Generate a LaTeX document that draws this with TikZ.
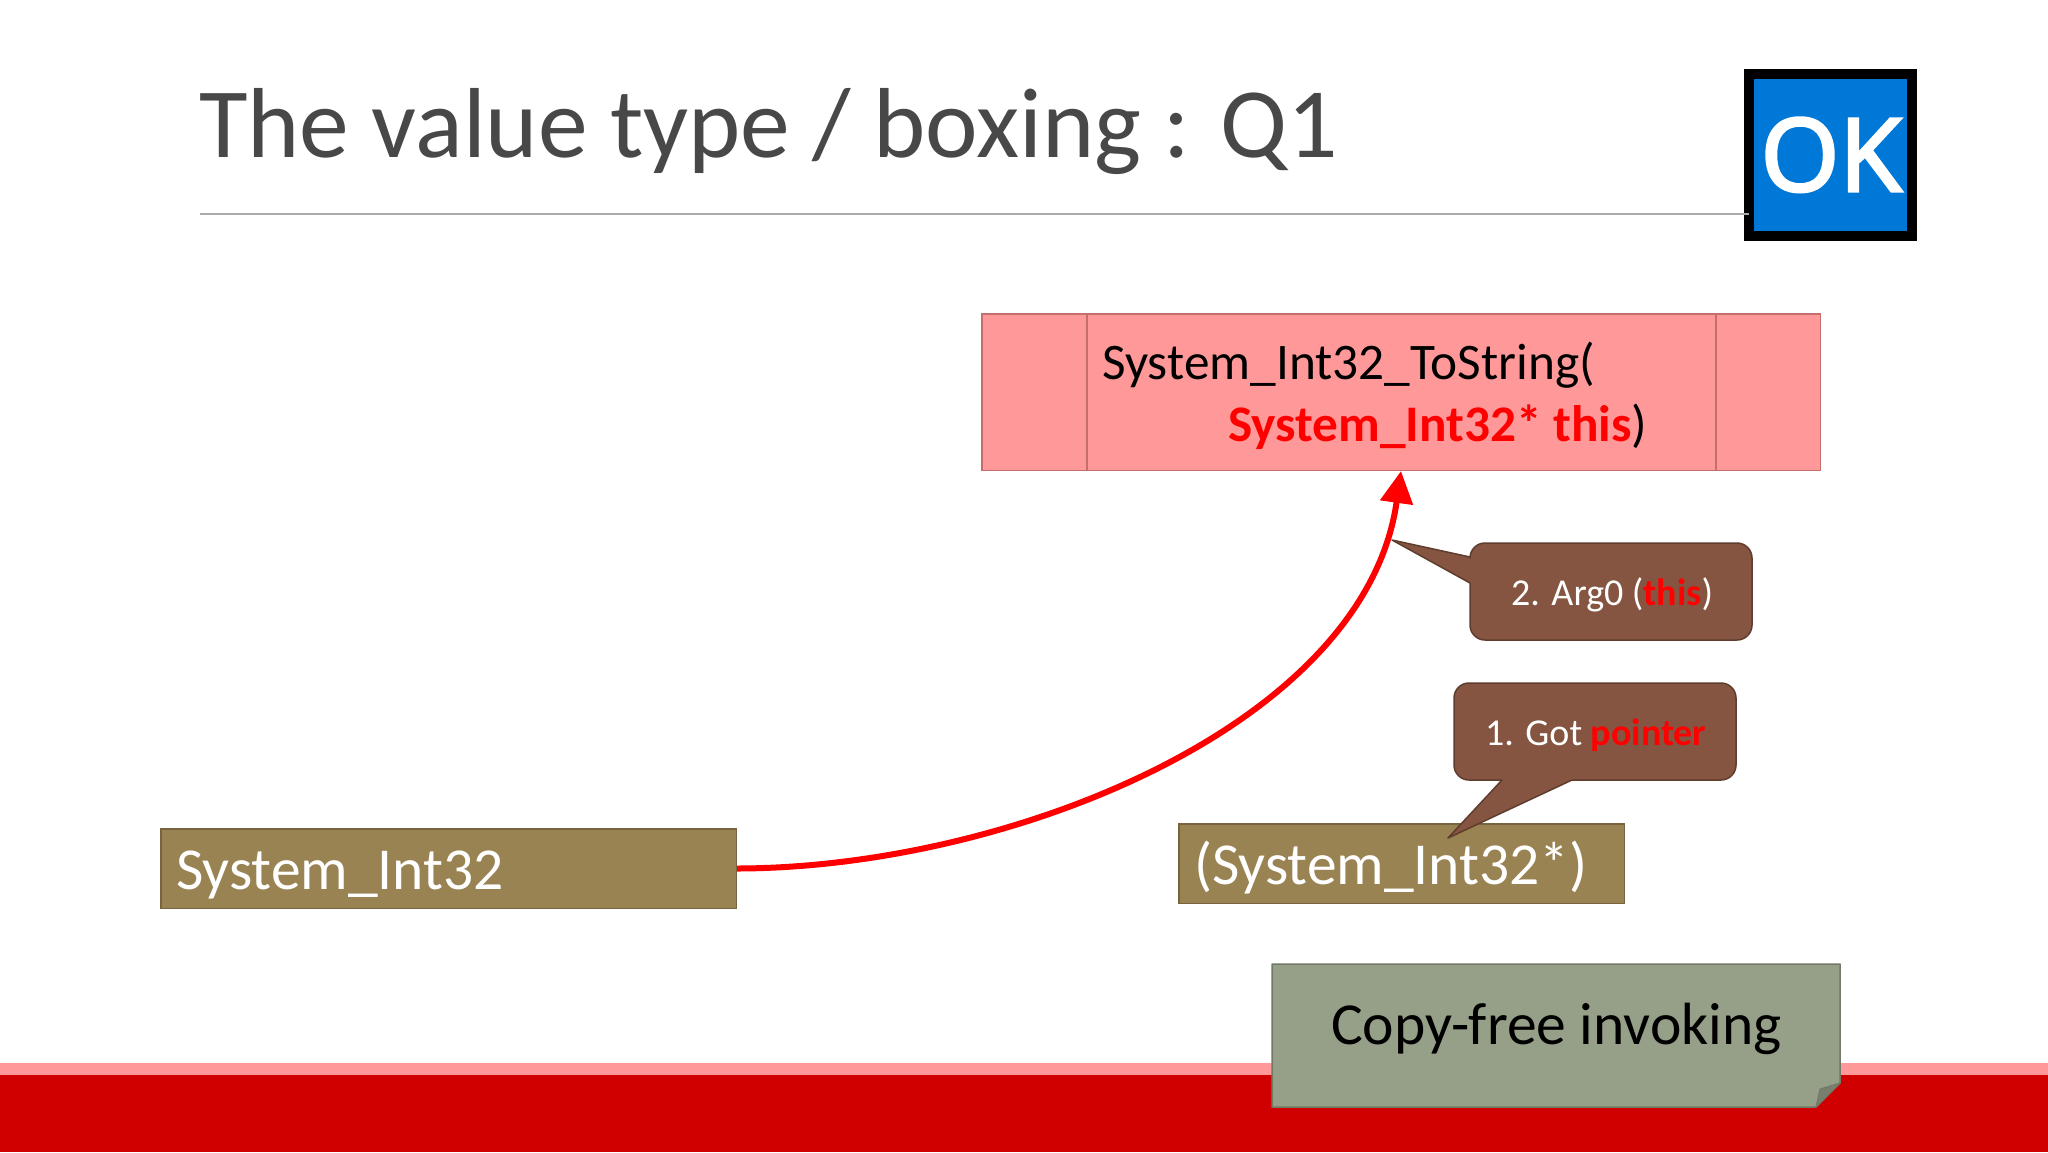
\documentclass[tikz,border=0pt]{standalone}
\usepackage{fontspec}
\usetikzlibrary{arrows.meta}
\setmainfont{Carlito}
\newfontfamily\okfont[FakeBold=3]{Open Sans}
\definecolor{barred}{HTML}{D00000}
\definecolor{barpink}{HTML}{FF9999}
\definecolor{pinkedge}{HTML}{C46E6E}
\definecolor{tanfill}{HTML}{9A8352}
\definecolor{tanedge}{HTML}{776540}
\definecolor{brownfill}{HTML}{855541}
\definecolor{brownedge}{HTML}{5F3D2E}
\definecolor{sagefill}{HTML}{969F87}
\definecolor{sageedge}{HTML}{727968}
\definecolor{sagedark}{HTML}{787F6C}
\definecolor{okblue}{HTML}{0078D7}
\definecolor{titlegray}{HTML}{484848}
\definecolor{rulegray}{HTML}{ABABAB}
\newcommand{\fsz}[1]{\fontsize{#1}{#1}\selectfont}
\tikzset{
  tanbox/.style={draw=tanedge,fill=tanfill,line width=1.5pt,text=white,anchor=north west,inner sep=0pt,align=left},
  bubble/.style={draw=brownedge,fill=brownfill,line width=1.5pt,line join=round},
  bubbletext/.style={text=white,font=\fsz{38},inner sep=0pt,anchor=base west},
}
\begin{document}
\begin{tikzpicture}[x=1pt,y=-1pt]
\useasboundingbox (0,0) rectangle (2048,1152);
\fill[white] (0,0) rectangle (2048,1152);
% footer bars
\fill[barpink] (0,1063) rectangle (2048,1075);
\fill[barred] (0,1075) rectangle (2048,1152);
% title and rule
\node[anchor=base west,inner sep=0pt,text=titlegray,font=\fsz{99.5}] (title) at (199,157) {The value type / boxing : Q1};
\coordinate (ruleL) at (200,214);
% OK badge
\node[anchor=north west,draw=black,line width=10pt,fill=okblue,minimum width=163pt,minimum height=162pt,inner sep=0pt,outer sep=0pt] (okbox) at (1749,74) {};
\draw[rulegray,line width=1.2pt] (ruleL) -- (ruleL -| okbox.west);
\node[anchor=base,text=white,font={\okfont\fsz{101}},inner sep=0pt] (oktext) at (1831,191) {OK};
% method box
\node[anchor=north west,draw=pinkedge,fill=barpink,line width=1.5pt,inner sep=0pt,minimum width=838.5pt,minimum height=156.5pt] (method) at (981,313) {};
\draw[pinkedge,line width=1.5pt] ([xshift=106pt]method.north west) -- ([xshift=106pt]method.south west);
\draw[pinkedge,line width=1.5pt] ([xshift=-105pt]method.north east) -- ([xshift=-105pt]method.south east);
\node[anchor=base west,inner sep=0pt,font=\fsz{51.3}] (sig1) at (1102,379) {System\_Int32\_ToString(};
\node[anchor=base west,inner sep=0pt,font=\fsz{51.3}] (sig2) at (1228,441) {\textcolor{red}{\bfseries System\_Int32* this})};
% value boxes
\node[tanbox,minimum width=575.5pt,minimum height=79.5pt] (valbox) at (160,828) {};
\node[anchor=base west,inner sep=0pt,text=white,font=\fsz{59.5}] (valtext) at (176,889) {System\_Int32};
\node[tanbox,minimum width=445.5pt,minimum height=79.5pt] (ptrbox) at (1178,823) {};
\node[anchor=base west,inner sep=0pt,text=white,font=\fsz{59.5}] (ptrtext) at (1194,884) {(System\_Int32*)};
% connector
\draw[red,line width=6pt,-{Triangle[length=32pt,width=32pt]}] (valbox.east)
  .. controls (1010,868) and (1365,725) .. (method.south);
% callouts
\coordinate (tipB) at (1392,540);
\draw[bubble] (tipB) -- (1470,557) [rounded corners=15pt] -- (1470,543) -- (1752,543) -- (1752,640) -- (1470,640) [sharp corners] -- (1470,583) -- cycle;
\node[bubbletext] (argtext) at (1511,605) {2. Arg0 (\textcolor{red}{\bfseries this})};
\coordinate (tipA) at (1448,838);
\draw[bubble] (tipA) -- (1502,780) [rounded corners=15pt] -- (1454,780) -- (1454,683) -- (1736,683) -- (1736,780) [sharp corners] -- (1572,780) -- cycle;
\node[bubbletext] (gottext) at (1485,745) {1. Got \textcolor{red}{\bfseries pointer}};
% note
\draw[draw=sageedge,fill=sagefill,line width=1.5pt,line join=round] (1272,964) -- (1840,964) -- (1840,1083) -- (1816,1107) -- (1272,1107) -- cycle;
\draw[draw=sageedge,fill=sagedark,line width=1pt,line join=round] (1840,1083) -- (1820,1089) -- (1816,1107) -- cycle;
\node[anchor=base west,inner sep=0pt,font=\fsz{59.6}] (notetext) at (1331,1044) {Copy-free invoking};
\end{tikzpicture}
\end{document}
